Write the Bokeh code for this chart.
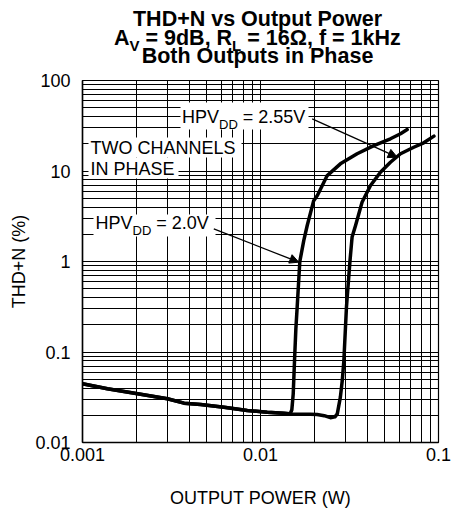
from bokeh.plotting import figure
from bokeh.models import (FixedTicker, Label, BoxAnnotation, Arrow, NormalHead,
                          CustomJSTickFormatter, Range1d)
from bokeh.layouts import column
from bokeh.embed import file_html
from bokeh.resources import INLINE

# ---------------- data ----------------
POWER_2V0 = [0.001, 0.00138, 0.00204, 0.003, 0.00372, 0.00461, 0.00624, 0.00843,
             0.0109, 0.0135, 0.0147, 0.0150, 0.01527, 0.01553, 0.0158, 0.01607,
             0.01663, 0.0175, 0.0183, 0.0199, 0.0209, 0.0237, 0.0281, 0.0349,
             0.0433, 0.0537, 0.0612, 0.0667]
THD_2V0 = [0.0446, 0.0392, 0.0345, 0.0304, 0.0272, 0.0263, 0.0245, 0.0226,
           0.0216, 0.0210, 0.0208, 0.0230, 0.0345, 0.0805, 0.18, 0.313,
           1.0, 1.7, 2.5, 4.7, 5.4, 8.9, 12.0, 15.5,
           19.1, 22.7, 25.8, 28.7]

POWER_2V55 = [0.001, 0.00138, 0.00204, 0.003, 0.00372, 0.00461, 0.00624, 0.00843,
              0.0109, 0.0135, 0.0147, 0.0165, 0.0190, 0.0208, 0.0228, 0.0247,
              0.0262, 0.0270, 0.0281, 0.0288, 0.0294, 0.0304, 0.0318, 0.0327,
              0.0342, 0.0372, 0.0415, 0.0472, 0.0537, 0.0612, 0.0726, 0.0826,
              0.0943]
THD_2V55 = [0.0446, 0.0392, 0.0345, 0.0304, 0.0272, 0.0263, 0.0245, 0.0226,
            0.0216, 0.0210, 0.0207, 0.0205, 0.0205, 0.0204, 0.0198, 0.0188,
            0.0192, 0.0207, 0.0317, 0.0484, 0.0805, 0.313, 1.0, 1.86,
            2.5, 4.52, 6.92, 9.7, 12.5, 15.5, 18.3, 20.5,
            24.3]

X_TICKS = [0.001, 0.01, 0.1]
X_TICK_LABELS = ["0.001", "0.01", "0.1"]
Y_TICKS = [0.01, 0.1, 1.0, 10.0, 100.0]
Y_TICK_LABELS = ["0.01", "0.1", "1", "10", "100"]
MINOR_STEPS = [2, 3, 4, 5, 6, 7, 8, 9]

X_LABEL = "OUTPUT POWER (W)"
Y_LABEL = "THD+N (%)"
TITLE_1 = "THD+N vs Output Power"
TITLE_3 = "Both Outputs in Phase"

FONT = "Liberation Sans"
MID = 0.3465   # baseline-to-middle offset, fraction of font size

# ---------------- geometry (page pixels) ----------------
W, H = 454, 512
HEAD = 68                                   # height of the title strip
FL, FR, FT, FB = 82.0, 438.0, 80.0, 442.0   # plot frame in page pixels
XLOG0, XLOG1 = -3.0, -1.0
YLOG0, YLOG1 = -2.0, 2.0


def px2x(xi):
    return 10 ** (XLOG0 + (xi - FL) / (FR - FL) * (XLOG1 - XLOG0))


def px2y(yi):
    return 10 ** (YLOG1 - (yi - FT) / (FB - FT) * (YLOG1 - YLOG0))


# ---------------- title strip (frame is aligned to the plot frame) ----------------
head = figure(width=W, height=HEAD, x_range=Range1d(FL, FR), y_range=Range1d(HEAD, 0),
              output_backend="svg", toolbar_location=None,
              x_axis_location=None, y_axis_location=None, min_border=0)
head.grid.visible = False
head.outline_line_color = None
head.background_fill_color = "white"
head.border_fill_color = "white"


def hput(text, xi, base, size, align="left"):
    head.add_layout(Label(x=xi, y=base - MID * size, text=text, text_font=FONT,
                          text_font_size=f"{size}px", text_font_style="bold",
                          text_align=align, text_baseline="middle",
                          text_color="black"))


hput(TITLE_1, 257, 26, 21.5, align="center")
hput("A", 113.5, 45, 21.5)
hput("V", 129.0, 50, 15)
hput("= 9dB, R", 145.0, 45, 21.5)
hput("L", 231.6, 50, 15)
hput("= 16Ω, f = 1kHz", 246.8, 45, 21.5)
hput(TITLE_3, 257, 63.3, 21.5, align="center")

# ---------------- main plot ----------------
p = figure(width=W, height=H - HEAD, x_axis_type="log", y_axis_type="log",
           x_range=(X_TICKS[0], X_TICKS[-1]), y_range=(Y_TICKS[0], Y_TICKS[-1]),
           output_backend="svg", toolbar_location=None,
           min_border_left=int(FL), min_border_right=int(W - FR),
           min_border_top=int(FT - HEAD), min_border_bottom=int(H - FB))
p.background_fill_color = "white"
p.border_fill_color = "white"
p.outline_line_color = "black"
p.outline_line_width = 1.2

x_minor = [d * k for d in X_TICKS[:-1] for k in MINOR_STEPS]
y_minor = [d * k for d in Y_TICKS[:-1] for k in MINOR_STEPS]
xt = FixedTicker(ticks=X_TICKS, minor_ticks=x_minor)
yt = FixedTicker(ticks=Y_TICKS, minor_ticks=y_minor)
p.xaxis.ticker = xt
p.yaxis.ticker = yt
p.xgrid.ticker = xt
p.ygrid.ticker = yt

fmt_code = """
for (let i = 0; i < vals.length; i++) {
  if (Math.abs(Math.log10(vals[i]) - Math.log10(tick)) < 1e-6) return labs[i];
}
return '';
"""
p.xaxis.formatter = CustomJSTickFormatter(args=dict(vals=X_TICKS, labs=X_TICK_LABELS), code=fmt_code)
p.yaxis.formatter = CustomJSTickFormatter(args=dict(vals=Y_TICKS, labs=Y_TICK_LABELS), code=fmt_code)

for g in (p.xgrid, p.ygrid):
    g.grid_line_color = "black"
    g.grid_line_alpha = 1.0
    g.grid_line_width = 1
    g.minor_grid_line_color = "black"
    g.minor_grid_line_alpha = 1.0
    g.minor_grid_line_width = 1

for ax in (p.xaxis, p.yaxis):
    ax.axis_line_color = "black"
    ax.axis_line_width = 1.5
    ax.major_tick_in = 0
    ax.major_tick_out = 0
    ax.minor_tick_in = 0
    ax.minor_tick_out = 0
    ax.major_label_text_font = FONT
    ax.major_label_text_font_size = "18px"
    ax.major_label_text_color = "black"
    ax.axis_label_text_font = FONT
    ax.axis_label_text_font_size = "18px"
    ax.axis_label_text_font_style = "normal"
    ax.axis_label_text_color = "black"

p.xaxis.axis_label = X_LABEL
p.yaxis.axis_label = Y_LABEL
p.xaxis.major_label_standoff = 5
p.xaxis.axis_label_standoff = 24
p.yaxis.major_label_standoff = 12
p.yaxis.axis_label_standoff = 3

# ---------------- curves ----------------
p.line(POWER_2V0, THD_2V0, line_color="black", line_width=3.5, line_join="round", line_cap="round")
p.line(POWER_2V55, THD_2V55, line_color="black", line_width=3.5, line_join="round", line_cap="round")


# ---------------- annotations ----------------
def put(text, xi, base, size):
    p.add_layout(Label(x=px2x(xi), y=px2y(base - MID * size), text=text, text_font=FONT,
                       text_font_size=f"{size}px", text_font_style="normal",
                       text_align="left", text_baseline="middle",
                       text_color="black"))


def white_box(x0, x1, y0, y1):
    p.add_layout(BoxAnnotation(left=px2x(x0), right=px2x(x1), top=px2y(y0), bottom=px2y(y1),
                               fill_color="white", fill_alpha=1.0, line_color=None))


# HPVDD = 2.55V
white_box(180, 308, 102, 129)
put("HPV", 181.5, 122.3, 18)
put("DD", 218.5, 128.3, 13)
put("= 2.55V", 242.3, 122.3, 18)

# TWO CHANNELS IN PHASE
white_box(88, 241, 137, 157)
white_box(88, 178, 157, 178)
put("TWO CHANNELS", 90, 153.3, 18)
put("IN PHASE", 90, 175, 18)

# HPVDD = 2.0V
white_box(93, 215, 214, 236)
put("HPV", 95, 228.3, 18)
put("DD", 132, 234.3, 13)
put("= 2.0V", 155.8, 228.3, 18)

# arrows
p.add_layout(Arrow(end=NormalHead(size=9, fill_color="black", line_color="black"),
                   x_start=px2x(311.7), y_start=px2y(118.3),
                   x_end=px2x(396.7), y_end=px2y(156.7),
                   line_color="black", line_width=1.3))
p.add_layout(Arrow(end=NormalHead(size=9, fill_color="black", line_color="black"),
                   x_start=px2x(213.3), y_start=px2y(228.3),
                   x_end=px2x(298.3), y_end=px2y(261.7),
                   line_color="black", line_width=1.3))

layout = column(head, p, spacing=0)
open("out.html", "w").write(file_html(layout, INLINE))
